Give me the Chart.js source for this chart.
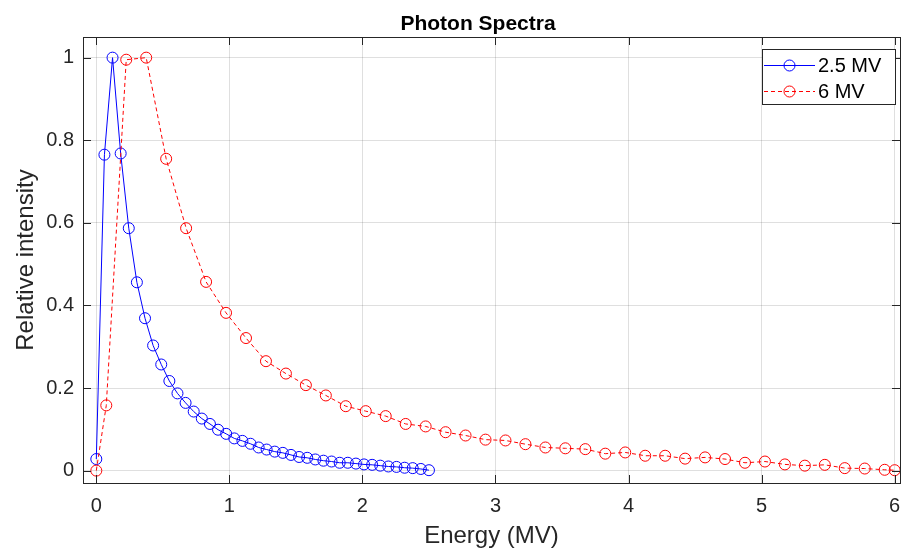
<!DOCTYPE html>
<html>
<head>
<meta charset="utf-8">
<script src="https://cdn.jsdelivr.net/npm/chart.js@4/dist/chart.umd.min.js"></script>
<style>
  html, body { margin: 0; padding: 0; background: #fff; }
</style>
</head>
<body>
<canvas id="spectra" width="912" height="553"></canvas>
<script>
// 2.5 MV spectrum
var energy25 = [0, 0.061, 0.122, 0.183, 0.244, 0.305, 0.366, 0.427, 0.488, 0.549, 0.610,
  0.671, 0.732, 0.793, 0.854, 0.915, 0.976, 1.037, 1.098, 1.159, 1.220, 1.280, 1.341,
  1.402, 1.463, 1.524, 1.585, 1.646, 1.707, 1.768, 1.829, 1.890, 1.951, 2.012, 2.073,
  2.134, 2.195, 2.256, 2.317, 2.378, 2.439, 2.5];
var intensity25 = [0.028, 0.765, 1.0, 0.768, 0.587, 0.456, 0.369, 0.303, 0.257, 0.217, 0.187,
  0.164, 0.143, 0.126, 0.113, 0.099, 0.089, 0.078, 0.072, 0.065, 0.056, 0.051, 0.046,
  0.043, 0.038, 0.033, 0.031, 0.027, 0.024, 0.022, 0.019, 0.019, 0.017, 0.015, 0.014,
  0.012, 0.010, 0.009, 0.007, 0.006, 0.004, 0.001];

// 6 MV spectrum
var energy6 = [0, 0.075, 0.225, 0.375, 0.525, 0.675, 0.825, 0.975, 1.125, 1.275, 1.425,
  1.575, 1.725, 1.875, 2.025, 2.175, 2.325, 2.475, 2.625, 2.775, 2.925, 3.075, 3.225,
  3.375, 3.525, 3.675, 3.825, 3.975, 4.125, 4.275, 4.425, 4.575, 4.725, 4.875, 5.025,
  5.175, 5.325, 5.475, 5.625, 5.775, 5.925, 6.0];
var intensity6 = [0, 0.158, 0.995, 1.0, 0.755, 0.587, 0.457, 0.382, 0.321, 0.265, 0.235,
  0.207, 0.182, 0.156, 0.144, 0.132, 0.113, 0.107, 0.093, 0.085, 0.075, 0.073, 0.064,
  0.056, 0.054, 0.052, 0.041, 0.044, 0.036, 0.036, 0.029, 0.032, 0.028, 0.019, 0.022,
  0.015, 0.012, 0.014, 0.006, 0.005, 0.002, 0.001];

var seriesNames = ["2.5 MV", "6 MV"];
var xTicks = [0, 1, 2, 3, 4, 5, 6];
var xTickLabels = ["0", "1", "2", "3", "4", "5", "6"];
var yTicks = [0, 0.2, 0.4, 0.6, 0.8, 1];
var yTickLabels = ["0", "0.2", "0.4", "0.6", "0.8", "1"];

var axisColor = "#262626";
var fontFamily = "'Liberation Sans', Arial, Helvetica, sans-serif";

function toPoints(xs, ys) {
  return xs.map(function (x, i) { return { x: x, y: ys[i] }; });
}

// MATLAB style box: inward ticks on all four sides, plus title and legend
var matlabBox = {
  id: "matlabBox",
  afterDraw: function (chart) {
    var ctx = chart.ctx, a = chart.chartArea;
    var xs = chart.scales.x, ys = chart.scales.y;
    var tl = 8;
    ctx.save();
    ctx.strokeStyle = axisColor;
    ctx.lineWidth = 1;
    ctx.beginPath();
    xTicks.forEach(function (v) {
      var px = Math.round(xs.getPixelForValue(v)) + 0.5;
      ctx.moveTo(px, a.bottom); ctx.lineTo(px, a.bottom - tl);
      ctx.moveTo(px, a.top); ctx.lineTo(px, a.top + tl);
    });
    yTicks.forEach(function (v) {
      var py = Math.round(ys.getPixelForValue(v)) + 0.5;
      ctx.moveTo(a.left, py); ctx.lineTo(a.left + tl, py);
      ctx.moveTo(a.right, py); ctx.lineTo(a.right - tl, py);
    });
    ctx.stroke();
    ctx.strokeRect(Math.round(a.left) + 0.5, Math.round(a.top) + 0.5,
      Math.round(a.right - a.left), Math.round(a.bottom - a.top));

    // title
    ctx.fillStyle = "#000";
    ctx.font = "bold 21px " + fontFamily;
    ctx.textAlign = "center";
    ctx.textBaseline = "alphabetic";
    ctx.fillText("Photon Spectra", 478, 30);

    // legend
    var bx = 762.5, by = 49.5, bw = 133, bh = 55;
    ctx.fillStyle = "#fff";
    ctx.fillRect(bx, by, bw, bh);
    ctx.strokeStyle = axisColor;
    ctx.strokeRect(bx, by, bw, bh);
    ctx.font = "20px " + fontFamily;
    ctx.textAlign = "left";
    ctx.textBaseline = "middle";
    chart.data.datasets.forEach(function (ds, i) {
      var ry = 65.5 + i * 26;
      ctx.strokeStyle = ds.borderColor;
      ctx.lineWidth = ds.borderWidth;
      ctx.setLineDash(ds.borderDash || []);
      ctx.beginPath();
      ctx.moveTo(764, ry); ctx.lineTo(815, ry);
      ctx.stroke();
      ctx.setLineDash([]);
      ctx.beginPath();
      ctx.arc(789.5, ry, ds.pointRadius, 0, Math.PI * 2);
      ctx.stroke();
      ctx.fillStyle = "#000";
      ctx.fillText(ds.label, 818, ry + 1);
    });
    ctx.restore();
  }
};

new Chart(document.getElementById("spectra"), {
  type: "line",
  data: {
    datasets: [{
      label: seriesNames[0],
      data: toPoints(energy25, intensity25),
      borderColor: "#0000ff",
      borderWidth: 1,
      pointRadius: 5.5,
      pointBorderWidth: 1,
      pointBorderColor: "#0000ff",
      pointBackgroundColor: "rgba(0,0,0,0)",
      fill: false,
      order: 1
    }, {
      label: seriesNames[1],
      data: toPoints(energy6, intensity6),
      borderColor: "#ff0000",
      borderWidth: 1,
      borderDash: [4, 3],
      pointRadius: 5.5,
      pointBorderWidth: 1,
      pointBorderColor: "#ff0000",
      pointBackgroundColor: "rgba(0,0,0,0)",
      fill: false,
      order: 0
    }]
  },
  options: {
    responsive: false,
    animation: false,
    layout: { padding: { top: 37, right: 12, left: 0, bottom: 0 } },
    plugins: {
      legend: { display: false },
      title: { display: false },
      tooltip: { enabled: false }
    },
    scales: {
      x: {
        type: "linear",
        min: -0.1,
        max: 6.04,
        afterFit: function (s) { s.height = 70; },
        afterBuildTicks: function (s) { s.ticks = xTicks.map(function (v) { return { value: v }; }); },
        grid: { color: "rgba(38,38,38,0.15)", drawTicks: false },
        border: { display: false },
        ticks: {
          padding: 11,
          color: axisColor,
          font: { family: fontFamily, size: 20 },
          callback: function (v) { return xTickLabels[xTicks.indexOf(v)]; }
        },
        title: {
          display: true,
          text: "Energy (MV)",
          color: axisColor,
          font: { family: fontFamily, size: 24 },
          padding: { top: 0, bottom: 2 }
        }
      },
      y: {
        min: -0.03,
        max: 1.05,
        afterFit: function (s) { s.width = 83; },
        afterBuildTicks: function (s) { s.ticks = yTicks.map(function (v) { return { value: v }; }); },
        grid: { color: "rgba(38,38,38,0.15)", drawTicks: false },
        border: { display: false },
        ticks: {
          padding: 9,
          color: axisColor,
          font: { family: fontFamily, size: 20 },
          callback: function (v) { return yTickLabels[yTicks.indexOf(v)]; }
        },
        title: {
          display: true,
          text: "Relative intensity",
          color: axisColor,
          font: { family: fontFamily, size: 24 },
          padding: { top: 12, bottom: 0 }
        }
      }
    }
  },
  plugins: [matlabBox]
});
</script>
</body>
</html>
